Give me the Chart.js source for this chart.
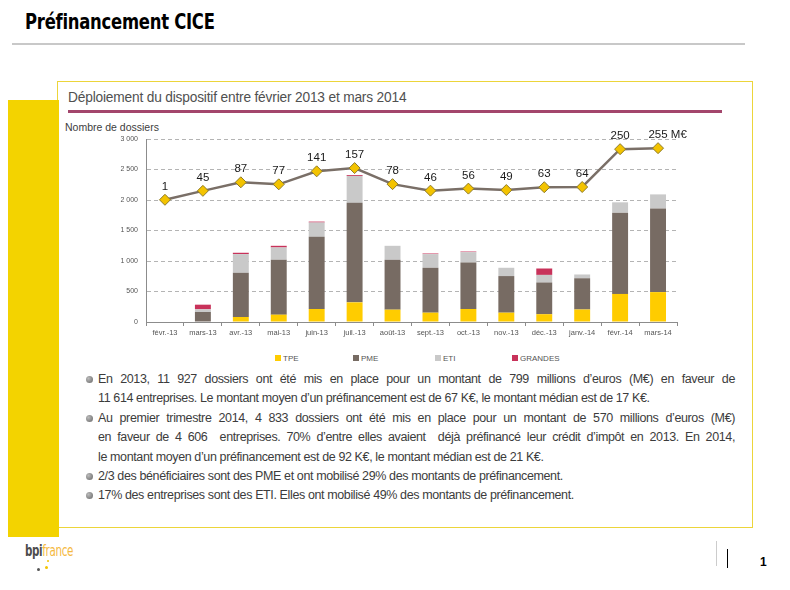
<!DOCTYPE html>
<html>
<head>
<meta charset="utf-8">
<script src="https://cdn.jsdelivr.net/npm/chart.js@4.4.1/dist/chart.umd.min.js"></script>
<style>
  html, body { margin:0; padding:0; background:#fff; }
  body { width:790px; height:590px; position:relative; overflow:hidden; font-family:"Liberation Sans", Arial, sans-serif; }
  .abs { position:absolute; }
  #title { left:25px; top:9px; font-family:"DejaVu Sans Condensed","DejaVu Sans",sans-serif; font-stretch:condensed; font-weight:bold; font-size:22px; color:#000; letter-spacing:-0.3px; transform:scaleX(0.83); transform-origin:0 0; white-space:nowrap; }
  #rule { left:12px; top:43px; width:733px; height:2px; background:#c8c8c8; }
  #yfill { left:8px; top:100px; width:51px; height:437px; background:#f3d300; }
  #box { left:57px; top:81px; width:694px; height:445px; border:1px solid #ecd53a; background:#fff; }
  #subtitle { left:68px; top:88px; font-size:15.5px; color:#505050; letter-spacing:-0.2px; transform:scaleX(0.885); transform-origin:0 0; white-space:nowrap; }
  #maroon { left:68px; top:110px; width:654px; height:3px; background:#a3466c; }
  #ylabel { left:65px; top:121px; font-size:10.5px; color:#404040; }
  #chartwrap { left:60px; top:120px; width:640px; height:225px; }
  #legend { left:0; top:353px; width:790px; height:14px; }
  .lg { position:absolute; top:0; font-size:8px; color:#555; white-space:nowrap; line-height:12px; }
  .lg i { display:inline-block; width:6px; height:6px; margin-right:2px; vertical-align:0px; }
  #text { left:98px; top:370px; width:637px; font-size:12.5px; letter-spacing:-0.38px; color:#3c3c3c; line-height:19.4px; }
  #text .ln { white-space:nowrap; text-align:left; position:relative; }
  #text .j { text-align:justify; text-align-last:justify; white-space:normal; }
  #text .b::before { content:""; position:absolute; left:-12px; top:6px; width:7px; height:7px; border-radius:50%; background:radial-gradient(circle at 35% 35%, #bbb, #666); }
  #logo { left:25px; top:541px; font-family:"DejaVu Sans Condensed","DejaVu Sans",sans-serif; font-stretch:condensed; font-size:16px; letter-spacing:-0.5px; transform:scaleX(0.72); transform-origin:0 0; white-space:nowrap; }
  #logo .b2 { color:#4d4d4d; font-weight:bold; }
  #logo .f { color:#f5b942; }
  .dot { position:absolute; width:3px; height:3px; border-radius:50%; }
  #vl1 { left:716px; top:541px; width:1px; height:25px; background:#ccc; }
  #vl2 { left:727px; top:549px; width:1px; height:19px; background:#000; }
  #pnum { left:760px; top:555px; font-size:12px; font-weight:bold; color:#000; }
</style>
</head>
<body>
<div id="title" class="abs">Préfinancement CICE</div>
<div id="rule" class="abs"></div>
<div id="box" class="abs"></div>
<div id="yfill" class="abs"></div>
<div id="subtitle" class="abs">Déploiement du dispositif entre février 2013 et mars 2014</div>
<div id="maroon" class="abs"></div>
<div id="ylabel" class="abs">Nombre de dossiers</div>
<div id="chartwrap" class="abs"><canvas id="c" width="640" height="225"></canvas></div>
<div id="legend" class="abs"></div>
<div id="text" class="abs">
<div class="ln j b">En 2013, 11&nbsp;927 dossiers ont été mis en place pour un montant de 799 millions d’euros (M€) en faveur de</div>
<div class="ln">11&nbsp;614 entreprises. Le montant moyen d’un préfinancement est de 67 K€, le montant médian est de 17 K€.</div>
<div class="ln j b">Au premier trimestre 2014, 4&nbsp;833 dossiers ont été mis en place pour un montant de 570 millions d’euros (M€)</div>
<div class="ln j">en faveur de 4&nbsp;606&nbsp; entreprises. 70% d’entre elles avaient&nbsp; déjà préfinancé leur crédit d’impôt en 2013. En 2014,</div>
<div class="ln">le montant moyen d’un préfinancement est de 92 K€, le montant médian est de 21 K€.</div>
<div class="ln b">2/3 des bénéficiaires sont des PME et ont mobilisé 29% des montants de préfinancement.</div>
<div class="ln b">17% des entreprises sont des ETI. Elles ont mobilisé 49% des montants de préfinancement.</div>
</div>
<div id="logo" class="abs"><span class="b2">bpi</span><span class="f">france</span></div>
<div class="dot" style="left:37px;top:568px;background:#555"></div>
<div class="dot" style="left:45px;top:566px;background:#f3c300"></div>
<div class="dot" style="left:47px;top:560px;background:#f3c300;width:2px;height:2px"></div>
<div id="vl1" class="abs"></div>
<div id="vl2" class="abs"></div>
<div id="pnum" class="abs">1</div>

<script>
const categories = ["févr.-13","mars-13","avr.-13","mai-13","juin-13","juil.-13","août-13","sept.-13","oct.-13","nov.-13","déc.-13","janv.-14","févr.-14","mars-14"];
const tpe      = [0, 0, 82, 120, 213, 322, 202, 153, 213, 153, 128, 205, 460, 490];
const pme      = [0, 164, 725, 900, 1183, 1631, 818, 736, 763, 600, 520, 512, 1333, 1372];
const eti      = [0, 44, 306, 202, 235, 442, 229, 224, 169, 136, 124, 62, 169, 230];
const grandes  = [0, 76, 22, 27, 15, 15, 0, 10, 10, 0, 105, 0, 0, 0];
const montants = [1, 45, 87, 77, 141, 157, 78, 46, 56, 49, 63, 64, 250, 255];
const yTicks = [0, 500, 1000, 1500, 2000, 2500, 3000];

const colors = { TPE:"#ffcc00", PME:"#776b63", ETI:"#c9c9c9", GRANDES:"#c8325a" };

const labelPlugin = {
  id: "lineLabels",
  afterDatasetsDraw(chart) {
    const ctx = chart.ctx;
    const idx = chart.data.datasets.findIndex(d => d.type === "line");
    const meta = chart.getDatasetMeta(idx);
    ctx.save();
    ctx.font = "11.5px 'Liberation Sans', Arial, sans-serif";
    ctx.fillStyle = "#1a1a1a";
    ctx.textBaseline = "alphabetic";
    meta.data.forEach((pt, i) => {
      const txt = String(montants[i]);
      ctx.textAlign = "center";
      ctx.fillText(txt, pt.x, pt.y - 10);
      if (i === montants.length - 1) {
        const w = ctx.measureText(txt).width;
        ctx.textAlign = "left";
        ctx.fillText(" M€", pt.x + w / 2, pt.y - 10);
      }
    });
    ctx.restore();
  }
};

const barOpts = { stack: "s", barPercentage: 0.42, categoryPercentage: 1.0, order: 1, borderWidth: 0 };

new Chart(document.getElementById("c"), {
  data: {
    labels: categories,
    datasets: [
      { type: "line", label: "M€", data: montants, yAxisID: "y2", order: 0,
        borderColor: "#7a6f67", borderWidth: 2.5, pointStyle: "rectRot", pointRadius: 5.5,
        pointBackgroundColor: "#f3c300", pointBorderColor: "#8c7a2a", pointBorderWidth: 1, tension: 0 },
      Object.assign({ type: "bar", label: "TPE", data: tpe, backgroundColor: colors.TPE }, barOpts),
      Object.assign({ type: "bar", label: "PME", data: pme, backgroundColor: colors.PME }, barOpts),
      Object.assign({ type: "bar", label: "ETI", data: eti, backgroundColor: colors.ETI }, barOpts),
      Object.assign({ type: "bar", label: "GRANDES", data: grandes, backgroundColor: colors.GRANDES }, barOpts)
    ]
  },
  options: {
    responsive: false,
    animation: false,
    devicePixelRatio: 1,
    layout: { padding: { left: 0, right: 23, top: 19, bottom: 0 } },
    plugins: { legend: { display: false }, tooltip: { enabled: false } },
    scales: {
      x: {
        stacked: true,
        offset: true,
        grid: { offset: true, drawOnChartArea: false, drawTicks: true, tickLength: 4, color: "#8c8c8c" },
        border: { color: "#8c8c8c", width: 1 },
        ticks: { font: { size: 7.5, family: "'Liberation Sans', Arial" }, color: "#555", padding: 2, maxRotation: 0, autoSkip: false },
        afterFit: s => { s.height = 23; }
      },
      y: {
        stacked: true,
        min: 0, max: 3000,
        afterBuildTicks: s => { s.ticks = yTicks.map(v => ({ value: v })); },
        ticks: { font: { size: 7, family: "'Liberation Sans', Arial" }, color: "#555", padding: 8,
                 callback: v => String(v).replace(/\B(?=(\d{3})+(?!\d))/g, " ") },
        grid: { color: c => c.tick.value === 0 ? "rgba(0,0,0,0)" : "#b4b4b4", drawTicks: false, lineWidth: 1 },
        border: { color: "#8c8c8c", dash: [4, 3], width: 1 },
        afterFit: s => { s.width = 86; }
      },
      y2: {
        display: false, min: -600, max: 300
      }
    }
  },
  plugins: [labelPlugin]
});

// HTML legend built from dataset names
const legendItems = [["TPE", 275], ["PME", 353], ["ETI", 435], ["GRANDES", 512]];
const lg = document.getElementById("legend");
legendItems.forEach(([name, x]) => {
  const d = document.createElement("div");
  d.className = "lg";
  d.style.left = x + "px";
  d.innerHTML = '<i style="background:' + colors[name] + '"></i>' + name;
  lg.appendChild(d);
});
</script>
</body>
</html>
